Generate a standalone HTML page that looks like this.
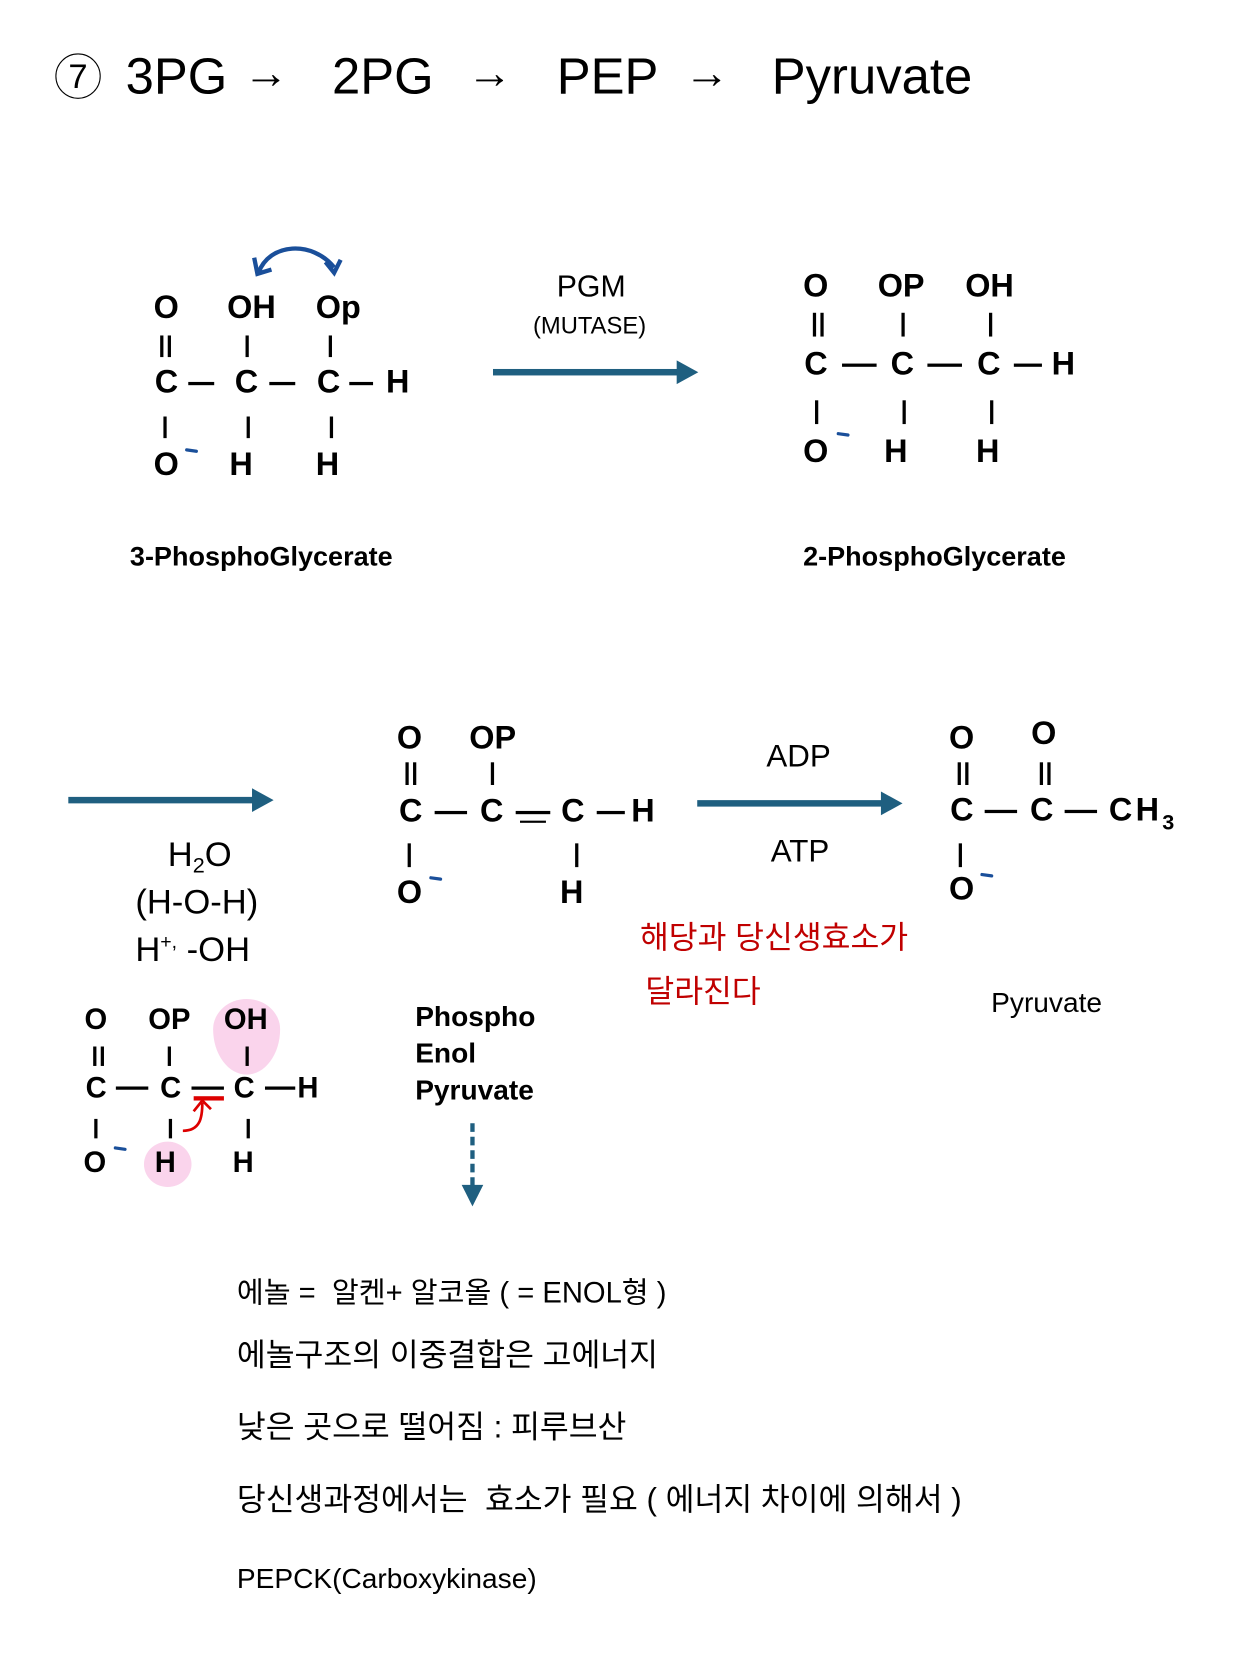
<!DOCTYPE html>
<html><head><meta charset="utf-8"><style>
html,body{margin:0;padding:0;background:#fff;}
body{width:1260px;height:1680px;overflow:hidden;position:relative;}
#s{position:absolute;left:0;top:0;width:1166px;height:1556px;transform:translate(-3px,-6px) scale(1.0806);transform-origin:0 0;}
.t{position:absolute;line-height:1;white-space:nowrap;font-family:"Liberation Sans","Noto Sans CJK KR",sans-serif;color:#000;}
.b{font-weight:bold;font-size:30px;}
.v{position:absolute;width:3px;background:#000;}
.h{position:absolute;height:3px;background:#000;}
.neg{position:absolute;width:12px;height:3px;background:#1a4f9a;border-radius:2px;transform:rotate(8deg);}
.arr{position:absolute;height:6px;background:#1f5f80;}
.arr:after{content:"";position:absolute;right:-18px;top:-8px;border-left:20px solid #1f5f80;border-top:11px solid transparent;border-bottom:11px solid transparent;}
.k{font-family:"Liberation Sans","Noto Sans CJK KR",sans-serif;}
</style></head><body><div id="s">

<!-- Title -->
<div class="t" style="left:54px;top:55px;width:40px;height:40px;border:1.5px solid #000;border-radius:50%;font-size:32px;text-align:center;line-height:40px;">7</div>
<div class="t" style="left:119px;top:52px;font-size:47px;">3PG</div>
<div class="t" style="left:228px;top:52px;font-size:42px;">→</div>
<div class="t" style="left:310px;top:52px;font-size:47px;">2PG</div>
<div class="t" style="left:435px;top:52px;font-size:42px;">→</div>
<div class="t" style="left:518px;top:52px;font-size:47px;">PEP</div>
<div class="t" style="left:636px;top:52px;font-size:42px;">→</div>
<div class="t" style="left:717px;top:52px;font-size:47px;">Pyruvate</div>

<!-- 3PG -->
<svg style="position:absolute;left:232px;top:228px" width="92" height="40"><path d="M10 30 C20 2 60 0 80 25" fill="none" stroke="#1a4f9a" stroke-width="4"/><path d="M6 16 L9 31 L22 27" fill="none" stroke="#1a4f9a" stroke-width="4"/><path d="M72 20 L80 30 L86 18" fill="none" stroke="#1a4f9a" stroke-width="4"/></svg>
<div class="t b" style="left:145px;top:276px;">O</div>
<div class="t b" style="left:213px;top:276px;">OH</div>
<div class="t b" style="left:295px;top:276px;">Op</div>
<div class="v" style="left:151px;top:316px;height:20px;"></div><div class="v" style="left:158px;top:316px;height:20px;"></div>
<div class="v" style="left:230px;top:316px;height:20px;"></div>
<div class="v" style="left:307px;top:316px;height:20px;"></div>
<div class="t b" style="left:146px;top:345px;">C</div>
<div class="h" style="left:177px;top:359px;width:24px;"></div>
<div class="t b" style="left:220px;top:345px;">C</div>
<div class="h" style="left:252px;top:359px;width:24px;"></div>
<div class="t b" style="left:296px;top:345px;">C</div>
<div class="h" style="left:326px;top:359px;width:22px;"></div>
<div class="t b" style="left:360px;top:345px;">H</div>
<div class="v" style="left:154px;top:391px;height:20px;"></div>
<div class="v" style="left:231px;top:391px;height:20px;"></div>
<div class="v" style="left:308px;top:391px;height:20px;"></div>
<div class="t b" style="left:145px;top:421px;">O</div><div class="neg" style="left:174px;top:421px;"></div>
<div class="t b" style="left:215px;top:421px;">H</div>
<div class="t b" style="left:295px;top:421px;">H</div>
<div class="t" style="left:123px;top:509px;font-size:25px;font-weight:bold;">3-PhosphoGlycerate</div>

<div class="t" style="left:518px;top:257px;font-size:28px;">PGM</div>
<div class="t" style="left:496px;top:296px;font-size:22px;">(MUTASE)</div>
<div class="arr" style="left:459px;top:347px;width:172px;"></div>

<!-- 2PG -->
<div class="t b" style="left:746px;top:256px;">O</div>
<div class="t b" style="left:815px;top:256px;">OP</div>
<div class="t b" style="left:896px;top:256px;">OH</div>
<div class="v" style="left:755px;top:295px;height:22px;"></div><div class="v" style="left:762px;top:295px;height:22px;"></div>
<div class="v" style="left:837px;top:295px;height:22px;"></div>
<div class="v" style="left:918px;top:295px;height:22px;"></div>
<div class="t b" style="left:747px;top:328px;">C</div>
<div class="h" style="left:782px;top:342px;width:32px;"></div>
<div class="t b" style="left:827px;top:328px;">C</div>
<div class="h" style="left:861px;top:342px;width:32px;"></div>
<div class="t b" style="left:907px;top:328px;">C</div>
<div class="h" style="left:941px;top:342px;width:26px;"></div>
<div class="t b" style="left:976px;top:328px;">H</div>
<div class="v" style="left:757px;top:376px;height:22px;"></div>
<div class="v" style="left:838px;top:376px;height:22px;"></div>
<div class="v" style="left:919px;top:376px;height:22px;"></div>
<div class="t b" style="left:746px;top:409px;">O</div><div class="neg" style="left:777px;top:406px;"></div>
<div class="t b" style="left:821px;top:409px;">H</div>
<div class="t b" style="left:906px;top:409px;">H</div>
<div class="t" style="left:746px;top:509px;font-size:25px;font-weight:bold;">2-PhosphoGlycerate</div>

<!-- left arrow & water -->
<div class="arr" style="left:66px;top:743px;width:172px;"></div>
<div class="t" style="left:158px;top:780px;font-size:32px;">H<sub style="font-size:20px;vertical-align:-6px;">2</sub>O</div>
<div class="t" style="left:128px;top:824px;font-size:32px;">(H-O-H)</div>
<div class="t" style="left:128px;top:868px;font-size:32px;">H<sup style="font-size:18px;vertical-align:12px;">+,</sup> -OH</div>

<!-- PEP -->
<div class="t b" style="left:370px;top:674px;">O</div>
<div class="t b" style="left:437px;top:674px;">OP</div>
<div class="v" style="left:378px;top:711px;height:21px;"></div><div class="v" style="left:385px;top:711px;height:21px;"></div>
<div class="v" style="left:457px;top:711px;height:21px;"></div>
<div class="t b" style="left:372px;top:742px;">C</div>
<div class="h" style="left:405px;top:756px;width:30px;"></div>
<div class="t b" style="left:447px;top:742px;">C</div>
<div class="h" style="left:480px;top:756px;width:32px;"></div><div class="h" style="left:484px;top:765px;width:24px;height:2px;"></div>
<div class="t b" style="left:522px;top:742px;">C</div>
<div class="h" style="left:555px;top:756px;width:26px;"></div>
<div class="t b" style="left:587px;top:742px;">H</div>
<div class="v" style="left:380px;top:786px;height:22px;"></div>
<div class="v" style="left:535px;top:786px;height:22px;"></div>
<div class="t b" style="left:370px;top:817px;">O</div><div class="neg" style="left:400px;top:817px;"></div>
<div class="t b" style="left:521px;top:817px;">H</div>

<div class="t" style="left:712px;top:692px;font-size:29px;">ADP</div>
<div class="arr" style="left:648px;top:746px;width:172px;"></div>
<div class="t" style="left:716px;top:780px;font-size:29px;">ATP</div>

<!-- Pyruvate struct -->
<div class="t b" style="left:881px;top:674px;">O</div>
<div class="t b" style="left:957px;top:670px;">O</div>
<div class="v" style="left:889px;top:711px;height:21px;"></div><div class="v" style="left:896px;top:711px;height:21px;"></div>
<div class="v" style="left:965px;top:711px;height:21px;"></div><div class="v" style="left:972px;top:711px;height:21px;"></div>
<div class="t b" style="left:882px;top:741px;">C</div>
<div class="h" style="left:914px;top:755px;width:30px;"></div>
<div class="t b" style="left:956px;top:741px;">C</div>
<div class="h" style="left:988px;top:755px;width:30px;"></div>
<div class="t b" style="left:1029px;top:741px;letter-spacing:3px;">CH<span style="font-size:20px;vertical-align:-8px;">3</span></div>
<div class="v" style="left:890px;top:786px;height:22px;"></div>
<div class="t b" style="left:881px;top:814px;">O</div><div class="neg" style="left:910px;top:814px;"></div>

<div class="t k" style="left:595px;top:860px;font-size:29px;color:#c00000;">해당과 당신생효소가</div>
<div class="t k" style="left:600px;top:910px;font-size:29px;color:#c00000;">달라진다</div>
<div class="t" style="left:920px;top:920px;font-size:26px;">Pyruvate</div>

<div class="t" style="left:387px;top:929px;font-size:26px;font-weight:bold;line-height:34px;">Phospho<br>Enol<br>Pyruvate</div>
<div style="position:absolute;left:438px;top:1045px;width:0;height:58px;border-left:4px dashed #1f5f80;"></div>
<div style="position:absolute;left:430px;top:1102px;border-top:20px solid #1f5f80;border-left:10px solid transparent;border-right:10px solid transparent;"></div>

<!-- bottom-left struct -->
<div style="position:absolute;left:200px;top:930px;width:62px;height:70px;background:#fad4ec;border-radius:50% 50% 50% 50%/40% 40% 60% 60%;"></div>
<div style="position:absolute;left:136px;top:1062px;width:44px;height:42px;background:#fad4ec;border-radius:50%;"></div>
<div class="t b" style="left:81px;top:936px;font-size:27px;">O</div>
<div class="t b" style="left:140px;top:936px;font-size:27px;">OP</div>
<div class="t b" style="left:210px;top:936px;font-size:27px;">OH</div>
<div class="v" style="left:89px;top:974px;height:18px;"></div><div class="v" style="left:96px;top:974px;height:18px;"></div>
<div class="v" style="left:158px;top:974px;height:18px;"></div>
<div class="v" style="left:230px;top:974px;height:18px;"></div>
<div class="t b" style="left:82px;top:999px;font-size:27px;">C</div>
<div class="h" style="left:110px;top:1011px;width:30px;"></div>
<div class="t b" style="left:151px;top:999px;font-size:27px;">C</div>
<div class="h" style="left:180px;top:1011px;width:30px;"></div>
<div class="h" style="left:182px;top:1020px;width:28px;height:4px;background:#d00;"></div>
<svg style="position:absolute;left:168px;top:1020px" width="40" height="40"><path d="M4 32 C20 32 22 20 22 6" fill="none" stroke="#d00" stroke-width="2.5"/><path d="M14 14 L22 4 L30 12" fill="none" stroke="#d00" stroke-width="2.5"/></svg>
<div class="t b" style="left:219px;top:999px;font-size:27px;">C</div>
<div class="h" style="left:248px;top:1011px;width:28px;"></div>
<div class="t b" style="left:278px;top:999px;font-size:27px;">H</div>
<div class="v" style="left:90px;top:1041px;height:18px;"></div>
<div class="v" style="left:159px;top:1041px;height:18px;"></div>
<div class="v" style="left:231px;top:1041px;height:18px;"></div>
<div class="t b" style="left:80px;top:1068px;font-size:27px;">O</div><div class="neg" style="left:108px;top:1067px;"></div>
<div class="t b" style="left:146px;top:1068px;font-size:27px;">H</div>
<div class="t b" style="left:218px;top:1068px;font-size:27px;">H</div>

<!-- bottom text -->
<div class="t k" style="left:222px;top:1189px;font-size:27px;">에놀 =&nbsp; 알켄+ 알코올 ( = ENOL형 )</div>
<div class="t k" style="left:222px;top:1246px;font-size:29px;">에놀구조의 이중결합은 고에너지</div>
<div class="t k" style="left:222px;top:1313px;font-size:29px;">낮은 곳으로 떨어짐 : 피루브산</div>
<div class="t k" style="left:222px;top:1380px;font-size:29px;">당신생과정에서는&nbsp; 효소가 필요 ( 에너지 차이에 의해서 )</div>
<div class="t" style="left:222px;top:1453px;font-size:26px;">PEPCK(Carboxykinase)</div>

</div></body></html>
